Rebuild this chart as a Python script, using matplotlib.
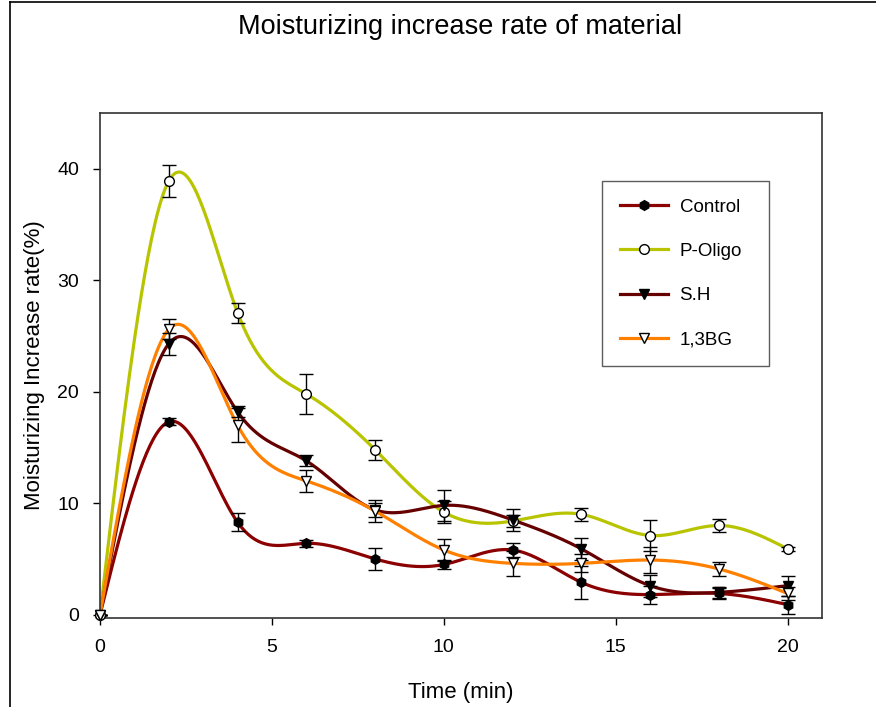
import matplotlib

matplotlib.use("Agg")
import matplotlib.pyplot as plt
import numpy as np
from matplotlib.lines import Line2D

plt.rcParams["font.family"] = ["Liberation Sans", "DejaVu Sans"]

time_min = [0, 2, 4, 6, 8, 10, 12, 14, 16, 18, 20]

control = [0, 17.3, 8.3, 6.4, 5.0, 4.5, 5.8, 2.9, 1.8, 1.9, 0.9]
control_err = [0, 0.3, 0.8, 0.3, 1.0, 0.4, 0.6, 1.5, 0.8, 0.5, 0.8]

p_oligo = [0, 38.9, 27.1, 19.8, 14.8, 9.2, 8.4, 9.0, 7.1, 8.0, 5.9]
p_oligo_err = [0, 1.4, 0.9, 1.8, 0.9, 1.0, 0.5, 0.6, 1.4, 0.6, 0.2]

sh = [0, 24.3, 18.2, 13.8, 9.4, 9.8, 8.5, 5.9, 2.6, 2.0, 2.6]
sh_err = [0, 1.0, 0.5, 0.5, 0.6, 1.4, 1.0, 1.0, 1.0, 0.5, 0.9]

bg13 = [0, 25.6, 17.0, 12.0, 9.3, 5.8, 4.6, 4.6, 4.9, 4.1, 1.9]
bg13_err = [0, 0.9, 1.5, 1.0, 1.0, 1.0, 1.1, 0.8, 1.2, 0.6, 0.6]


def smooth(x, y, n=400):
    # natural cubic spline through the points, for drawing only
    x = np.asarray(x, float)
    y = np.asarray(y, float)
    k = len(x)
    h = np.diff(x)
    a = np.zeros((k, k))
    b = np.zeros(k)
    a[0, 0] = a[-1, -1] = 1
    for i in range(1, k - 1):
        a[i, i - 1] = h[i - 1]
        a[i, i] = 2 * (h[i - 1] + h[i])
        a[i, i + 1] = h[i]
        b[i] = 6 * ((y[i + 1] - y[i]) / h[i] - (y[i] - y[i - 1]) / h[i - 1])
    m = np.linalg.solve(a, b)
    xs = np.linspace(x[0], x[-1], n)
    idx = np.clip(np.searchsorted(x, xs) - 1, 0, k - 2)
    x0, x1 = x[idx], x[idx + 1]
    hh = x1 - x0
    t0, t1 = x1 - xs, xs - x0
    ys = (m[idx] * t0**3 + m[idx + 1] * t1**3) / (6 * hh) \
        + (y[idx] / hh - m[idx] * hh / 6) * t0 \
        + (y[idx + 1] / hh - m[idx + 1] * hh / 6) * t1
    return xs, ys


series = [
    ("Control", control, control_err, "#8B0000", "h", "black"),
    ("P-Oligo", p_oligo, p_oligo_err, "#B8C400", "o", "white"),
    ("S.H", sh, sh_err, "#660000", "v", "black"),
    ("1,3BG", bg13, bg13_err, "#FF8000", "v", "white"),
]

fig = plt.figure(figsize=(8.76, 7.07), dpi=100)
ax = fig.add_axes([100 / 876, 1 - 618 / 707, 722 / 876, 505 / 707])

handles = []
for name, vals, err, color, marker, face in series:
    xs, ys = smooth(time_min, vals)
    ax.plot(xs, ys, color=color, lw=2.3, zorder=2)
    ax.errorbar(time_min, vals, yerr=err, fmt="none", ecolor="black",
                elinewidth=1.0, capsize=5, capthick=1.0, zorder=3)
    ax.plot(time_min, vals, linestyle="none", marker=marker, markersize=7,
            markerfacecolor=face, markeredgecolor="black", markeredgewidth=1.0,
            zorder=4, clip_on=False)
    handles.append(Line2D([], [], color=color, lw=2.3, marker=marker, markersize=7,
                          markerfacecolor=face, markeredgecolor="black",
                          markeredgewidth=1.0, label=name))

ax.set_xlim(0, 21)
ax.set_ylim(-0.3, 45)
ax.set_xticks([0, 5, 10, 15, 20])
ax.set_yticks([0, 10, 20, 30, 40])
ax.tick_params(direction="out", length=5, width=1, labelsize=14, pad=10)
for sp in ax.spines.values():
    sp.set_linewidth(1.2)
    sp.set_color("#333333")

ax.set_xlabel("Time (min)", fontsize=16, labelpad=19)
ax.set_ylabel("Moisturizing Increase rate(%)", fontsize=16, labelpad=9)
fig.text(0.525, 1 - 27 / 707, "Moisturizing increase rate of material",
         ha="center", va="center", fontsize=19.5)

leg = ax.legend(handles=handles, loc="upper left",
                bbox_to_anchor=(0.695, 0.5, 0.231, 0.366), mode="expand",
                borderaxespad=0, handlelength=2.6, labelspacing=1.45,
                borderpad=0.95, handletextpad=0.6,
                fontsize=13.5, frameon=True, fancybox=False)
leg.get_frame().set_edgecolor("#333333")
leg.get_frame().set_linewidth(1.0)

# figure frame: top and left edges
fig.add_artist(Line2D([10 / 876, 10 / 876], [0, 1 - 2 / 707], color="black", lw=1.2,
                      transform=fig.transFigure))
fig.add_artist(Line2D([10 / 876, 1], [1 - 2 / 707, 1 - 2 / 707], color="black", lw=1.2,
                      transform=fig.transFigure))

fig.savefig("out.png", dpi=100)
